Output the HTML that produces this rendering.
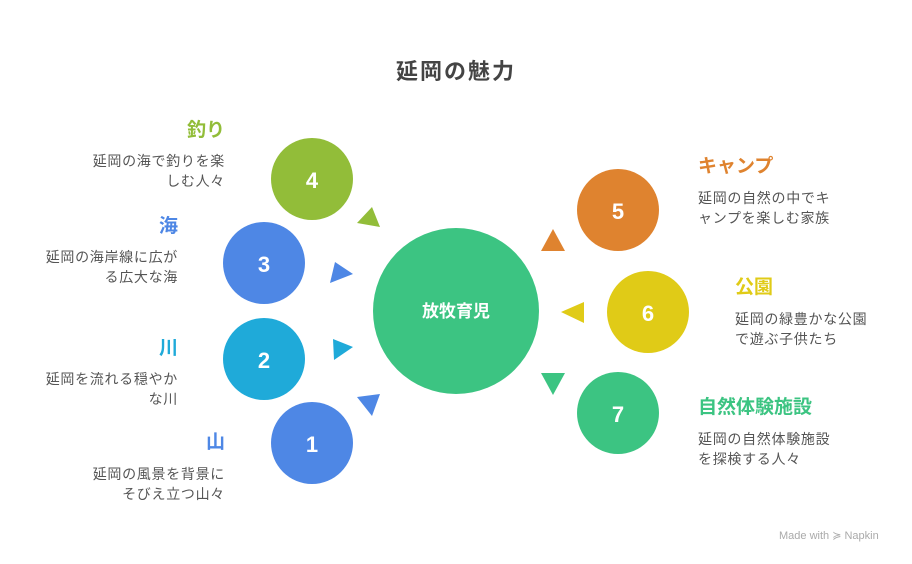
<!DOCTYPE html>
<html><head><meta charset="utf-8"><style>
body{margin:0;width:912px;height:564px;background:#fff;overflow:hidden;font-family:"Liberation Sans","Noto Sans CJK JP",sans-serif;}
.t{position:absolute;white-space:nowrap;}
.h{font-weight:bold;font-size:19px;line-height:22px;}
.d{font-size:14px;line-height:19.5px;color:#555;letter-spacing:0.7px;}
.r{text-align:right;}
</style></head><body>
<svg width="912" height="564" style="position:absolute;left:0;top:0">
<g font-family="Liberation Sans, Noto Sans CJK JP, sans-serif" font-weight="bold" fill="#fff" text-anchor="middle">
<circle cx="456" cy="311" r="83" fill="#3cc482"/>
<text x="456" y="317" font-size="17">放牧育児</text>
<circle cx="312" cy="179" r="41" fill="#92bd39"/><text x="312" y="188" font-size="22">4</text>
<circle cx="264" cy="263" r="41" fill="#4e87e5"/><text x="264" y="272" font-size="22">3</text>
<circle cx="264" cy="359" r="41" fill="#1faad9"/><text x="264" y="368" font-size="22">2</text>
<circle cx="312" cy="443" r="41" fill="#4e87e5"/><text x="312" y="452" font-size="22">1</text>
<circle cx="618" cy="210" r="41" fill="#df832f"/><text x="618" y="219" font-size="22">5</text>
<circle cx="648" cy="312" r="41" fill="#e0cb17"/><text x="648" y="321" font-size="22">6</text>
<circle cx="618" cy="413" r="41" fill="#3cc482"/><text x="618" y="422" font-size="22">7</text>
</g>
<polygon points="357,223 372,207 380,227" fill="#92bd39"/>
<polygon points="330,283 335,262 353,274" fill="#4e87e5"/>
<polygon points="333,339 353,347 334,360" fill="#1faad9"/>
<polygon points="357,397 380,394 372,416" fill="#4e87e5"/>
<polygon points="541,251 553,229 565,251" fill="#df832f"/>
<polygon points="561,312 584,302 584,323" fill="#e0cb17"/>
<polygon points="541,373 565,373 553,395" fill="#3cc482"/>
</svg>
<div class="t" style="left:0;width:912px;top:54px;text-align:center;font-size:22px;font-weight:bold;color:#444;letter-spacing:2px;">延岡の魅力</div>

<div class="t h r" style="right:687px;top:120px;color:#92bd39">釣り</div>
<div class="t d r" style="right:687px;top:152px">延岡の海で釣りを楽<br>しむ人々</div>
<div class="t h r" style="right:734px;top:216px;color:#4e87e5">海</div>
<div class="t d r" style="right:734px;top:248px">延岡の海岸線に広が<br>る広大な海</div>
<div class="t h r" style="right:734px;top:338px;color:#1faad9">川</div>
<div class="t d r" style="right:734px;top:370px">延岡を流れる穏やか<br>な川</div>
<div class="t h r" style="right:687px;top:432px;color:#4e87e5">山</div>
<div class="t d r" style="right:687px;top:465px">延岡の風景を背景に<br>そびえ立つ山々</div>

<div class="t h" style="left:698px;top:156px;color:#df832f">キャンプ</div>
<div class="t d" style="left:698px;top:189px">延岡の自然の中でキ<br>ャンプを楽しむ家族</div>
<div class="t h" style="left:735px;top:277px;color:#e0cb17">公園</div>
<div class="t d" style="left:735px;top:310px">延岡の緑豊かな公園<br>で遊ぶ子供たち</div>
<div class="t h" style="left:698px;top:397px;color:#3cc482">自然体験施設</div>
<div class="t d" style="left:698px;top:430px">延岡の自然体験施設<br>を探検する人々</div>

<div class="t" style="left:779px;top:529px;font-size:11px;color:#aaa">Made with ≽ Napkin</div>
</body></html>
